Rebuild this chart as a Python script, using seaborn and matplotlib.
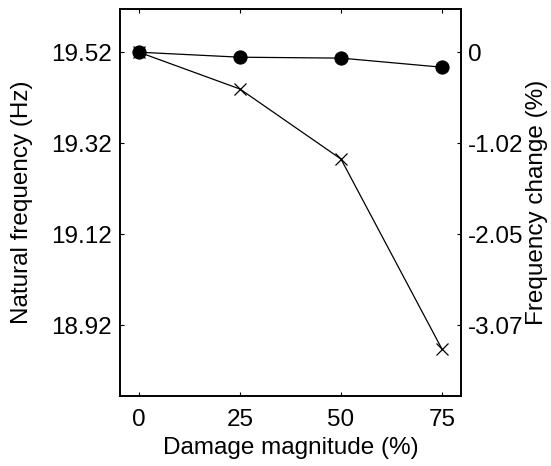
import matplotlib
matplotlib.use("Agg")
import matplotlib.pyplot as plt
import seaborn as sns
import pandas as pd

damage = [0, 25, 50, 75]
freq_circle = [19.52, 19.509, 19.507, 19.487]
freq_cross = [19.52, 19.439, 19.285, 18.867]
yticks = [18.92, 19.12, 19.32, 19.52]
base = 19.52

sns.set_theme(style="ticks")
plt.rcParams['font.family'] = ['Liberation Sans', 'DejaVu Sans']
plt.rcParams.update({"text.color": "black", "axes.labelcolor": "black",
                     "xtick.color": "black", "ytick.color": "black",
                     "axes.edgecolor": "black"})

FS = 17.5
fig = plt.figure(figsize=(5.51, 4.66), dpi=100)
ax = fig.add_axes([120/551, 1-396/466, (461-120)/551, (396-9)/466])

df1 = pd.DataFrame({"x": damage, "y": freq_circle})
df2 = pd.DataFrame({"x": damage, "y": freq_cross})
sns.lineplot(data=df2, x="x", y="y", ax=ax, color="black", lw=0.9,
             marker="x", markersize=9, markeredgewidth=0.9, markeredgecolor="black")
sns.lineplot(data=df1, x="x", y="y", ax=ax, color="black", lw=0.9,
             marker="o", markersize=9.5, markeredgecolor="black", markerfacecolor="black")

ax.set_xlim(-4.7, 79.7)
ax.set_ylim(18.764, 19.615)
ax.set_xticks(damage)
ax.set_yticks(yticks)
ax.set_yticklabels([f"{v:.2f}" for v in yticks])
ax.set_xlabel("Damage magnitude (%)", fontsize=FS, labelpad=5)
ax.set_ylabel("Natural frequency (Hz)", fontsize=FS, labelpad=13)
ax.tick_params(direction="in", length=3, width=0.8, labelsize=FS, top=True)
ax.tick_params(axis="x", pad=9)
ax.tick_params(axis="y", right=False, pad=6)
for s in ax.spines.values():
    s.set_linewidth(1.2)
    s.set_color("black")

ax2 = ax.twinx()
lo, hi = ax.get_ylim()
ax2.set_ylim((lo - base) / base * 100, (hi - base) / base * 100)
rticks = [(v - base) / base * 100 for v in yticks]
ax2.set_yticks(rticks)
ax2.set_yticklabels(["-3.07", "-2.05", "-1.02", "0"])
ax2.tick_params(direction="in", length=3, width=0.8, labelsize=FS, pad=5)
ax2.set_ylabel("Frequency change (%)", fontsize=FS, labelpad=2)
for s in ax2.spines.values():
    s.set_linewidth(1.2)
    s.set_color("black")

fig.savefig("out.png", dpi=100)
